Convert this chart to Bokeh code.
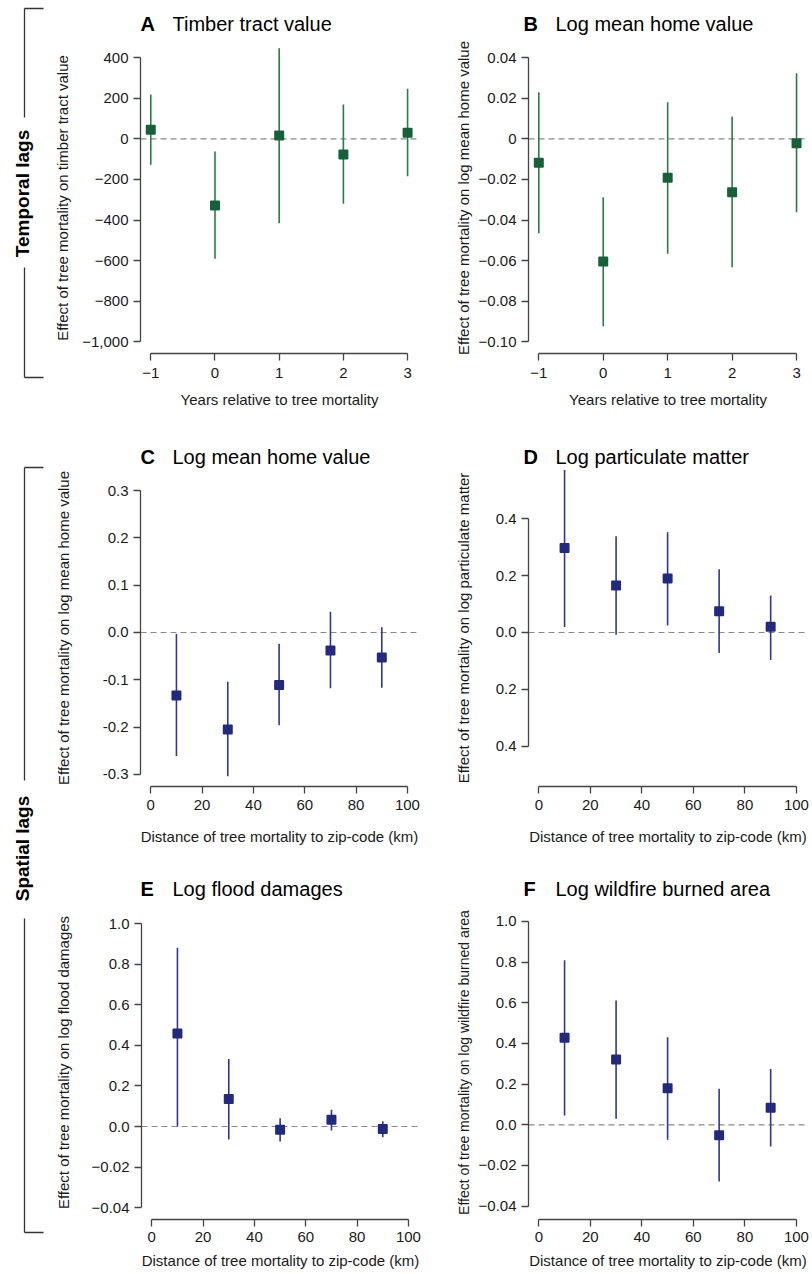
from bokeh.plotting import figure
from bokeh.models import Range1d, FixedTicker, Span
from bokeh.layouts import row, column
from bokeh.embed import file_html
from bokeh.resources import INLINE
from bokeh.core.properties import value

FONT = "Liberation Sans"

# ---------------- data ----------------
years = [-1, 0, 1, 2, 3]
a_est = [44, -328, 16, -77, 30]
a_lo = [-128, -591, -416, -320, -184]
a_hi = [218, -63, 446, 169, 246]

b_est = [-0.0118, -0.0604, -0.0192, -0.0263, -0.0022]
b_lo = [-0.0465, -0.0923, -0.0566, -0.0632, -0.0361]
b_hi = [0.0229, -0.0288, 0.0180, 0.0110, 0.0323]

dist = [10, 30, 50, 70, 90]
c_est = [-0.133, -0.205, -0.111, -0.038, -0.053]
c_lo = [-0.261, -0.304, -0.196, -0.118, -0.117]
c_hi = [-0.003, -0.104, -0.024, 0.044, 0.011]

d_est = [0.297, 0.165, 0.190, 0.075, 0.020]
d_lo = [0.019, -0.008, 0.025, -0.072, -0.097]
d_hi = [0.571, 0.338, 0.352, 0.222, 0.130]

e_est = [0.458, 0.136, -0.016, 0.033, -0.012]
e_lo = [0.000, -0.064, -0.074, -0.020, -0.053]
e_hi = [0.880, 0.333, 0.041, 0.082, 0.026]

f_est = [0.428, 0.321, 0.180, -0.051, 0.084]
f_lo = [0.046, 0.030, -0.074, -0.279, -0.107]
f_hi = [0.810, 0.611, 0.431, 0.177, 0.275]

# ---------------- ticks / labels ----------------
year_ticks = [-1, 0, 1, 2, 3]
year_labels = ["\u22121", "0", "1", "2", "3"]
dist_ticks = [0, 20, 40, 60, 80, 100]
dist_labels = ["0", "20", "40", "60", "80", "100"]

a_yticks = [400, 200, 0, -200, -400, -600, -800, -1000]
a_ylabels = ["400", "200", "0", "\u2212200", "\u2212400", "\u2212600", "\u2212800", "\u22121,000"]
b_yticks = [0.04, 0.02, 0, -0.02, -0.04, -0.06, -0.08, -0.10]
b_ylabels = ["0.04", "0.02", "0", "\u22120.02", "\u22120.04", "\u22120.06", "\u22120.08", "\u22120.10"]
c_yticks = [0.3, 0.2, 0.1, 0.0, -0.1, -0.2, -0.3]
c_ylabels = ["0.3", "0.2", "0.1", "0.0", "-0.1", "-0.2", "-0.3"]
d_yticks = [0.4, 0.2, 0.0, -0.2, -0.4]
d_ylabels = ["0.4", "0.2", "0.0", "0.2", "0.4"]
ef_yticks = [1.0, 0.8, 0.6, 0.4, 0.2, 0.0, -0.2, -0.4]
ef_ylabels = ["1.0", "0.8", "0.6", "0.4", "0.2", "0.0", "\u22120.02", "\u22120.04"]

x_year_title = "Years relative to tree mortality"
x_dist_title = "Distance of tree mortality to zip-code (km)"

letters = [["A", "B"], ["C", "D"], ["E", "F"]]
titles = [["Timber tract value", "Log mean home value"],
          ["Log mean home value", "Log particulate matter"],
          ["Log flood damages", "Log wildfire burned area"]]

GREEN_BAR = "#2a7b47"
GREEN_PT = "#17603a"
BLUE_BAR = "#2e3791"
BLUE_PT = "#242a7b"
AXIS = "#444444"
TEXT = "#1a1a1a"


def panel(x, est, lo, hi, bar_c, pt_c, xr, yr, xticks, xlabels, yticks, ylabels,
          xlab, ylab, width, height, mbl, mbr, mbt, mbb, ylab_sd, xtick_sd, xlab_sd,
          ylab_size="15px"):
    p = figure(width=width, height=height, x_range=Range1d(*xr), y_range=Range1d(*yr),
               output_backend="svg", toolbar_location=None,
               min_border_left=mbl, min_border_right=mbr,
               min_border_top=mbt, min_border_bottom=mbb)
    p.grid.visible = False
    p.outline_line_color = None
    p.background_fill_color = "white"
    p.border_fill_color = "white"

    p.add_layout(Span(location=0, dimension="width", line_color="#8a8a8a",
                      line_width=1.2, line_dash="6 4", level="underlay"))
    p.segment(x0=x, y0=lo, x1=x, y1=hi, line_color=bar_c, line_width=1.6)
    p.scatter(x=x, y=est, marker="square", size=8, fill_color=pt_c,
              line_color=pt_c, line_width=2, line_join="round")

    for ax, ticks, labels, lab in ((p.xaxis[0], xticks, xlabels, xlab),
                                   (p.yaxis[0], yticks, ylabels, ylab)):
        ax.ticker = FixedTicker(ticks=ticks)
        ax.bounds = (min(ticks), max(ticks))
        ax.major_label_overrides = dict(zip(ticks, labels))
        ax.axis_line_color = AXIS
        ax.axis_line_width = 1.3
        ax.major_tick_line_color = AXIS
        ax.major_tick_line_width = 1.3
        ax.major_tick_in = 0
        ax.major_tick_out = 7
        ax.minor_tick_line_color = None
        ax.major_label_text_font = FONT
        ax.major_label_text_font_size = "15px"
        ax.major_label_text_color = TEXT
        ax.axis_label = lab
        ax.axis_label_text_font = FONT
        ax.axis_label_text_font_size = "15px"
        ax.axis_label_text_font_style = "normal"
        ax.axis_label_text_color = TEXT
    p.yaxis[0].axis_label_text_font_size = ylab_size
    p.yaxis[0].major_label_standoff = 5
    p.yaxis[0].axis_label_standoff = ylab_sd
    p.xaxis[0].major_label_standoff = xtick_sd
    p.xaxis[0].axis_label_standoff = xlab_sd
    return p


def title_strip(h, lets, tits, y):
    t = figure(width=767, height=h, x_range=Range1d(0, 767), y_range=Range1d(h, 0),
               output_backend="svg", toolbar_location=None, min_border=0,
               x_axis_location=None, y_axis_location=None)
    t.grid.visible = False
    t.outline_line_color = None
    t.text(x=[95, 478], y=[y, y], text=lets, text_baseline="middle",
           text_font=value(FONT), text_font_size="20px", text_font_style="bold",
           text_color="black")
    t.text(x=[127, 510], y=[y, y], text=tits, text_baseline="middle",
           text_font=value(FONT), text_font_size="20px", text_color="black")
    return t


LW, RW = 385, 382
T1, P1, T2, P2, T3, P3 = 40, 375, 54, 381, 52, 370
YR_X = (-1.16, 3.17)
DI_X = (-4.0, 104.3)

pa = panel(years, a_est, a_lo, a_hi, GREEN_BAR, GREEN_PT, YR_X, (-1057, 474),
           year_ticks, year_labels, a_yticks, a_ylabels, x_year_title,
           "Effect of tree mortality on timber tract value",
           LW, P1, 95, 12, 2, 62, 8, 7, 10)
pb = panel(years, b_est, b_lo, b_hi, GREEN_BAR, GREEN_PT, YR_X, (-0.10571, 0.04742),
           year_ticks, year_labels, b_yticks, b_ylabels, x_year_title,
           "Effect of tree mortality on log mean home value",
           RW, P1, 98, 5, 2, 62, 4, 7, 10)
pc = panel(dist, c_est, c_lo, c_hi, BLUE_BAR, BLUE_PT, DI_X, (-0.3254, 0.3444),
           dist_ticks, dist_labels, c_yticks, c_ylabels, x_dist_title,
           "Effect of tree mortality on log mean home value",
           LW, P2, 95, 12, 0, 64, 28, 6, 15)
pd = panel(dist, d_est, d_lo, d_hi, BLUE_BAR, BLUE_PT, DI_X, (-0.5409, 0.5725),
           dist_ticks, dist_labels, d_yticks, d_ylabels, x_dist_title,
           "Effect of tree mortality on log particulate matter",
           RW, P2, 98, 5, 0, 64, 21, 6, 15)
pe = panel(dist, e_est, e_lo, e_hi, BLUE_BAR, BLUE_PT, DI_X, (-0.458, 1.0887),
           dist_ticks, dist_labels, ef_yticks, ef_ylabels, x_dist_title,
           "Effect of tree mortality on log flood damages",
           LW, P3, 96, 11, 3, 53, 17, 5, 7)
pf = panel(dist, f_est, f_lo, f_hi, BLUE_BAR, BLUE_PT, DI_X, (-0.4658, 1.0787),
           dist_ticks, dist_labels, ef_yticks, ef_ylabels, x_dist_title,
           "Effect of tree mortality on log wildfire burned area",
           RW, P3, 98, 5, 3, 53, 4, 5, 7, ylab_size="14px")

t1 = title_strip(T1, letters[0], titles[0], 23)
t2 = title_strip(T2, letters[1], titles[1], 41.5)
t3 = title_strip(T3, letters[2], titles[2], 38)

# ---------------- left bracket strip ----------------
SW = 45
TOTAL_H = T1 + P1 + T2 + P2 + T3 + P3
strip = figure(width=SW, height=TOTAL_H, x_range=Range1d(0, SW), y_range=Range1d(TOTAL_H, 0),
               output_backend="svg", toolbar_location=None, min_border=0,
               x_axis_location=None, y_axis_location=None)
strip.grid.visible = False
strip.outline_line_color = None

br_x0 = [24, 24, 24, 24, 24, 24, 24, 24]
br_y0 = [8, 267, 8, 377, 467, 918, 467, 1232]
br_x1 = [24, 24, 43, 43, 24, 24, 43, 43]
br_y1 = [117, 377, 8, 377, 780, 1232, 467, 1232]
strip.segment(x0=br_x0, y0=br_y0, x1=br_x1, y1=br_y1, line_color="#333333", line_width=1.3)
strip.text(x=[22, 22], y=[193, 848], text=["Temporal lags", "Spatial lags"],
           angle=1.5708, text_align="center", text_baseline="middle",
           text_font=value(FONT), text_font_size="19px", text_font_style="bold",
           text_color="black")

layout = row(strip, column(t1, row(pa, pb), t2, row(pc, pd), t3, row(pe, pf)))
open("out.html", "w").write(file_html(layout, INLINE))
